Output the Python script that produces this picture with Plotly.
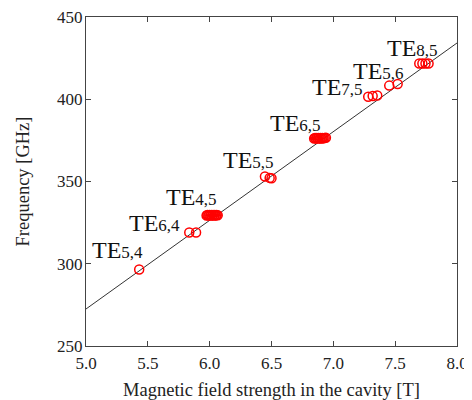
import plotly.graph_objects as go

# Measured points (magnetic field [T], frequency [GHz]) per mode
mode_names = ["5,4", "6,4", "4,5", "5,5", "6,5", "7,5", "5,6", "8,5"]
B_TE54 = [5.43]
f_TE54 = [296.5]
B_TE64 = [5.835, 5.89]
f_TE64 = [319.0, 319.0]
B_TE45 = [5.975, 5.982, 5.99, 5.997, 6.005, 6.012, 6.02, 6.027, 6.035, 6.042, 6.05, 6.057, 6.065]
f_TE45 = [329.3, 329.6, 329.4, 329.7, 329.3, 329.6, 329.4, 329.7, 329.3, 329.6, 329.4, 329.7, 329.5]
B_TE55 = [6.447, 6.485, 6.5]
f_TE55 = [353.0, 352.2, 352.0]
B_TE65 = [6.845, 6.852, 6.86, 6.867, 6.875, 6.882, 6.89, 6.897, 6.905, 6.912, 6.92, 6.93, 6.94]
f_TE65 = [376.1, 376.4, 376.2, 376.5, 376.1, 376.4, 376.2, 376.5, 376.1, 376.4, 376.3, 376.5, 376.6]
B_TE75 = [7.282, 7.318, 7.355]
f_TE75 = [401.5, 402.0, 402.3]
B_TE56 = [7.452, 7.52]
f_TE56 = [408.3, 409.3]
B_TE85 = [7.695, 7.72, 7.745, 7.77]
f_TE85 = [421.7, 421.7, 421.7, 421.7]

# Fitted line (endpoints read at the axis limits)
fit_B = [5.0, 8.0]
fit_f = [272.5, 434.2]

x_ticks = [5.0, 5.5, 6.0, 6.5, 7.0, 7.5, 8.0]
y_ticks = [250, 300, 350, 400, 450]

series_B = [B_TE54, B_TE64, B_TE45, B_TE55, B_TE65, B_TE75, B_TE56, B_TE85]
series_f = [f_TE54, f_TE64, f_TE45, f_TE55, f_TE65, f_TE75, f_TE56, f_TE85]

# Label placement (data coords of left/middle of each label)
label_pos = [(5.035, 308.4), (5.33, 324.6), (5.627, 340.4), (6.093, 363.3),
             (6.47, 385.4), (6.813, 407.3), (7.141, 417.4), (7.414, 431.2)]

FONT = "Liberation Serif, Times New Roman, serif"

fig = go.Figure()
fig.add_trace(go.Scatter(x=fit_B, y=fit_f, mode="lines",
                         line=dict(color="#333333", width=1), showlegend=False))
for B, f in zip(series_B, series_f):
    fig.add_trace(go.Scatter(x=B, y=f, mode="markers", showlegend=False,
                             marker=dict(symbol="circle-open", size=9, color="#ff0000",
                                         line=dict(width=1.5, color="#ff0000"))))

for name, (lx, ly) in zip(mode_names, label_pos):
    fig.add_annotation(x=lx, y=ly, xref="x", yref="y",
                       text=f"TE<span style='font-size:17px'>{name}</span>",
                       showarrow=False, xanchor="left", yanchor="middle",
                       font=dict(family=FONT, size=24, color="#111111"))

axis_common = dict(showgrid=False, zeroline=False, showline=True, linecolor="#444444",
                   linewidth=1, mirror="ticks", ticks="inside", ticklen=5,
                   tickcolor="#444444", automargin=False, ticklabeloverflow="allow",
                   tickfont=dict(family=FONT, size=17, color="#222222"))

fig.update_xaxes(range=[5.0, 8.0], tickvals=x_ticks, ticklabelstandoff=2,
                 ticktext=[f"{v:.1f}" for v in x_ticks],
                 title=dict(text="Magnetic field strength in the cavity [T]",
                            font=dict(family=FONT, size=18.5, color="#222222"), standoff=14),
                 **axis_common)
fig.update_yaxes(range=[250, 450], tickvals=y_ticks, ticklabelstandoff=-1,
                 title=dict(text="Frequency [GHz]",
                            font=dict(family=FONT, size=18.5, color="#222222"), standoff=22),
                 **axis_common)

# The page body adds an 8px margin, so the figure is sized/offset to fit the 472x400 view
fig.update_layout(width=464, height=392, margin=dict(l=78, r=15, t=9, b=54),
                  plot_bgcolor="white", paper_bgcolor="white")

fig.write_html("out.html")
